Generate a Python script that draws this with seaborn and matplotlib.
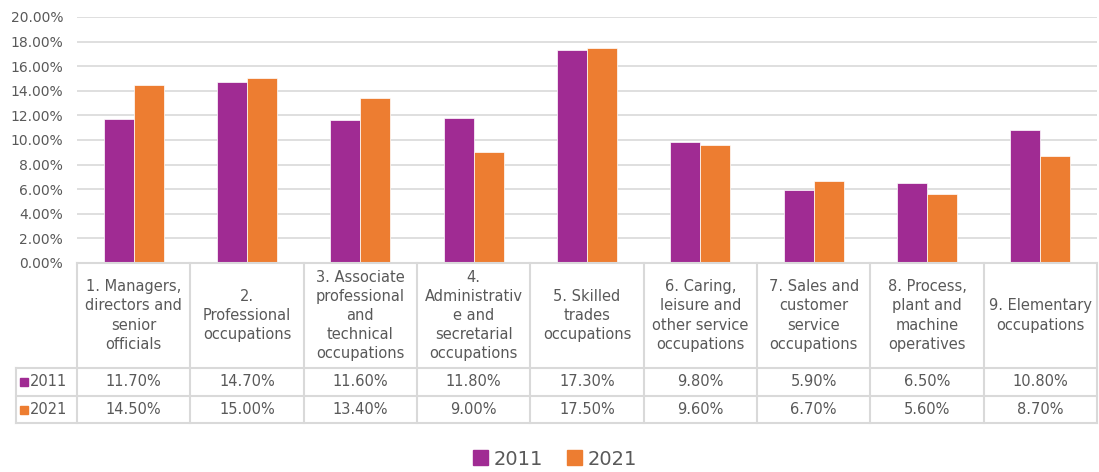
import pandas as pd
import matplotlib.pyplot as plt
import seaborn as sns
from matplotlib.patches import Patch
from matplotlib.transforms import blended_transform_factory

# Chart data
years = ['2011', '2021']
categories = [
    '1. Managers,\ndirectors and\nsenior\nofficials',
    '2.\nProfessional\noccupations',
    '3. Associate\nprofessional\nand\ntechnical\noccupations',
    '4.\nAdministrativ\ne and\nsecretarial\noccupations',
    '5. Skilled\ntrades\noccupations',
    '6. Caring,\nleisure and\nother service\noccupations',
    '7. Sales and\ncustomer\nservice\noccupations',
    '8. Process,\nplant and\nmachine\noperatives',
    '9. Elementary\noccupations',
]
values_2011 = [11.70, 14.70, 11.60, 11.80, 17.30, 9.80, 5.90, 6.50, 10.80]
values_2021 = [14.50, 15.00, 13.40, 9.00, 17.50, 9.60, 6.70, 5.60, 8.70]
colors = ['#A02B93', '#ED7D31']

df = pd.DataFrame({
    'category': categories * 2,
    'year': [years[0]] * len(categories) + [years[1]] * len(categories),
    'value': values_2011 + values_2021,
})

text_color = '#595959'
line_color = '#D9D9D9'
plt.rcParams['font.family'] = ['DejaVu Sans']

W, H = 1099, 472
fig = plt.figure(figsize=(W / 100, H / 100), dpi=100)
ax = fig.add_axes([77 / W, 1 - 263 / H, (1097 - 77) / W, (263 - 17) / H])

sns.barplot(data=df, x='category', y='value', hue='year', order=categories,
            palette=colors, saturation=1, width=0.53, ax=ax, legend=False,
            edgecolor='white', linewidth=0.5)

ax.set_xlim(-0.5, len(categories) - 0.5)
ax.set_ylim(0, 20)
ax.set_yticks(range(0, 21, 2))
ax.set_yticklabels([f'{t:.2f}%' for t in range(0, 21, 2)], color=text_color, fontsize=10)
ax.tick_params(axis='y', length=0, pad=10)
ax.set_xticks([])
ax.set_xlabel('')
ax.set_ylabel('')
ax.grid(axis='y', color=line_color, linewidth=1.2)
ax.set_axisbelow(True)
for s in ['left', 'right', 'top']:
    ax.spines[s].set_visible(False)
ax.spines['bottom'].set_color(line_color)
ax.spines['bottom'].set_linewidth(1.5)

# Data table below the chart
trans = blended_transform_factory(ax.transData, ax.transAxes)
ah = 263 - 17
y_head = -(368 - 263) / ah
y_r1 = -(396 - 263) / ah
y_r2 = -(423 - 263) / ah
x_left = (16 - 77) / (1097 - 77)

lk = dict(color=line_color, linewidth=1.5, clip_on=False)
n = len(categories)
for i in range(n + 1):
    ax.plot([i - 0.5, i - 0.5], [0, y_r2], transform=trans, **lk)
for y in [y_head, y_r1, y_r2]:
    ax.plot([x_left, 1], [y, y], transform=ax.transAxes, **lk)
ax.plot([x_left, x_left], [y_head, y_r2], transform=ax.transAxes, **lk)

for i, cat in enumerate(categories):
    ax.text(i, y_head / 2, cat, transform=trans, ha='center', va='center',
            fontsize=10.5, color=text_color, linespacing=1.35)
    ax.text(i, (y_head + y_r1) / 2, f'{values_2011[i]:.2f}%', transform=trans,
            ha='center', va='center', fontsize=10.5, color=text_color)
    ax.text(i, (y_r1 + y_r2) / 2, f'{values_2021[i]:.2f}%', transform=trans,
            ha='center', va='center', fontsize=10.5, color=text_color)

for year, c, (ya, yb) in zip(years, colors, [(y_head, y_r1), (y_r1, y_r2)]):
    ym = (ya + yb) / 2
    ax.plot([(24 - 77) / 1020], [ym], marker='s', markersize=6, color=c,
            transform=ax.transAxes, clip_on=False)
    ax.text((30 - 77) / 1020, ym, year, transform=ax.transAxes, ha='left',
            va='center', fontsize=10.5, color=text_color)

handles = [Patch(color=c) for c in colors]
fig.legend(handles, years, loc='lower center', bbox_to_anchor=(0.505, -0.03),
           ncol=2, frameon=False, fontsize=14, labelcolor=text_color,
           handlelength=0.8, handleheight=0.8, handletextpad=0.3, columnspacing=1.2)

plt.savefig('out.png', dpi=100)
plt.close()
